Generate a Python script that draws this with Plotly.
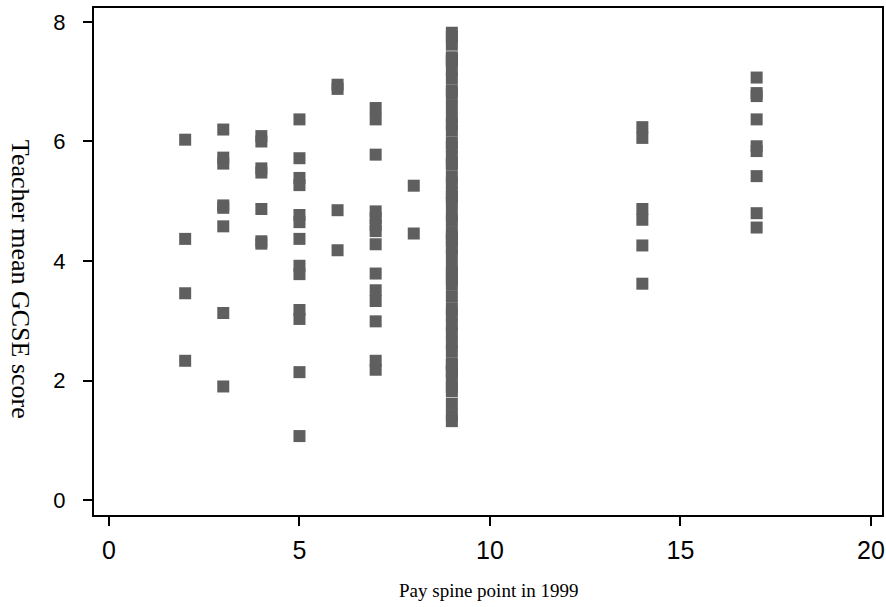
import plotly.graph_objects as go

# Pay spine point columns and the teacher mean GCSE scores
spine_2 = [6.03, 4.37, 3.46, 2.33]
spine_3 = [6.20, 5.73, 5.63, 4.93, 4.89, 4.58, 3.13, 1.90]
spine_4 = [6.09, 6.00, 5.55, 5.48, 4.87, 4.33, 4.29]
spine_5 = [6.37, 5.72, 5.39, 5.27, 4.77, 4.65, 4.37, 3.92, 3.78, 3.18, 3.03, 2.14, 1.07]
spine_6 = [6.95, 6.88, 4.85, 4.18]
spine_7 = [6.56, 6.37, 5.78, 4.83, 4.72, 4.60, 4.50, 4.28, 3.79, 3.51, 3.33, 2.99, 2.33, 2.18]
spine_8 = [5.26, 4.46]
spine_9 = [7.82, 7.75, 7.62, 7.41, 7.38, 7.35, 7.20, 7.05, 6.85, 6.81, 6.61, 6.41,
           6.29, 6.18, 5.98, 5.91, 5.74, 5.64, 5.61, 5.41, 5.31, 5.14, 5.07, 4.97,
           4.77, 4.67, 4.47, 4.40, 4.34, 4.22, 4.10, 3.90, 3.80, 3.70, 3.60, 3.40,
           3.20, 3.10, 2.93, 2.80, 2.63, 2.49, 2.29, 2.26, 2.16, 2.13, 2.01, 1.89,
           1.82, 1.61, 1.42, 1.32]
spine_14 = [6.24, 6.06, 4.87, 4.69, 4.26, 3.62]
spine_17 = [7.07, 6.81, 6.76, 6.37, 5.92, 5.84, 5.42, 4.80, 4.56]

columns = {2: spine_2, 3: spine_3, 4: spine_4, 5: spine_5, 6: spine_6, 7: spine_7,
           8: spine_8, 9: spine_9, 14: spine_14, 17: spine_17}

x_ticks = [0, 5, 10, 15, 20]
y_ticks = [0, 2, 4, 6, 8]

xs, ys = [], []
for k, vals in columns.items():
    xs += [k] * len(vals)
    ys += vals

fig = go.Figure()
fig.add_trace(go.Scatter(
    x=xs, y=ys, mode="markers",
    marker=dict(symbol="square", size=12, color="#5f5f5f", line=dict(width=0)),
    showlegend=False, hoverinfo="skip"))

axis_common = dict(
    showline=True, linecolor="black", linewidth=2, mirror=True,
    ticks="outside", ticklen=9, tickwidth=1.5, tickcolor="black",
    showgrid=False, zeroline=False,
)
sans = "Liberation Sans, Arial, sans-serif"
serif = "Liberation Serif, Times New Roman, serif"

fig.update_xaxes(range=[-0.393, 20.29], tickvals=x_ticks, ticklabelstandoff=3,
                 tickfont=dict(family=sans, size=25, color="black"), **axis_common)
fig.update_yaxes(range=[-0.251, 8.234], tickvals=y_ticks, ticklabelstandoff=13,
                 tickfont=dict(family=sans, size=22, color="black"), **axis_common)

plot_h = 607 - 8 - 92
plot_w = 886 - 94 - 2

fig.update_layout(
    width=886, height=607,
    margin=dict(l=94, r=2, t=8, b=92),
    paper_bgcolor="white", plot_bgcolor="white",
    annotations=[
        dict(text="Pay spine point in 1999", xref="paper", yref="paper",
             x=(489 - 94) / plot_w, y=(515 - 590) / plot_h,
             xanchor="center", yanchor="middle", showarrow=False,
             font=dict(family=serif, size=19, color="black")),
        dict(text="Teacher mean GCSE score", textangle=90, xref="paper", yref="paper",
             x=(21 - 94) / plot_w, y=(515 - 279) / plot_h,
             xanchor="center", yanchor="middle", showarrow=False,
             font=dict(family=serif, size=26, color="black")),
    ],
)

fig.write_html("out.html", config={"displayModeBar": False},
               post_script="document.body.style.margin='0px';")
